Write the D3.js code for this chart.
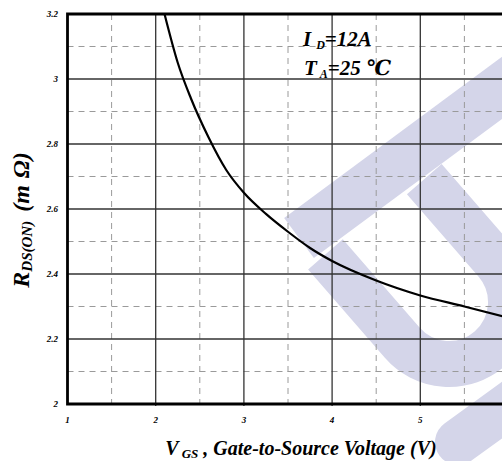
<!DOCTYPE html>
<html>
<head>
<meta charset="utf-8">
<script src="https://cdn.jsdelivr.net/npm/d3@7"></script>
<style>
  html, body { margin: 0; padding: 0; background: #fff; }
  svg text { font-family: "Liberation Serif", "DejaVu Serif", serif; font-weight: bold; font-style: italic; fill: #000; }
</style>
</head>
<body>
<div class="box"></div>
<script>
// données
const vgs = [2.10, 2.25, 2.40, 2.60, 2.80, 3.00, 3.25, 3.50, 3.75, 4.00, 4.50, 5.00, 5.50, 6.00];
const rds = [3.20, 3.05, 2.94, 2.82, 2.72, 2.650, 2.585, 2.530, 2.48, 2.440, 2.380, 2.334, 2.300, 2.265];

const xTicks = [1, 2, 3, 4, 5];
const xMinor = [1.5, 2.5, 3.5, 4.5, 5.5];
const yTicks = [2, 2.2, 2.4, 2.6, 2.8, 3, 3.2];
const yMinor = [2.1, 2.3, 2.5, 2.7, 2.9, 3.1];

const dims = {width: 502, height: 461, left: 67.5, top: 14, bottom: 404, right: 508.5};

const svg = d3.select('.box')
              .append('svg')
              .attr('width', dims.width)
              .attr('height', dims.height);

const x = d3.scaleLinear().domain([1, 6]).range([dims.left, dims.right]);
const y = d3.scaleLinear().domain([2, 3.2]).range([dims.bottom, dims.top]);

// filigrane (logo en fond)
const wm = svg.append('g')
              .attr('fill', 'none')
              .attr('stroke', '#d4d5e9');

wm.append('line')
  .attr('x1', 299).attr('y1', 238)
  .attr('x2', 560).attr('y2', 45)
  .attr('stroke-width', 50);

wm.append('path')
  .attr('transform', 'translate(449,302) rotate(-41)')
  .attr('d', 'M-62,-117 L-62,0 A62,62 0 0 0 62,0 L62,-109')
  .attr('stroke-width', 46);

wm.append('line')
  .attr('x1', 458).attr('y1', 442)
  .attr('x2', 560).attr('y2', 368)
  .attr('stroke-width', 46)
  .attr('stroke-linecap', 'round');

// grille secondaire
const grid = svg.append('g');

grid.selectAll('.vmin')
    .data(xMinor)
    .enter().append('line')
    .attr('x1', d => x(d)).attr('x2', d => x(d))
    .attr('y1', dims.top).attr('y2', dims.bottom)
    .attr('stroke', '#9a9a9a')
    .attr('stroke-width', 1)
    .attr('stroke-dasharray', '6,5');

grid.selectAll('.hmin')
    .data(yMinor)
    .enter().append('line')
    .attr('x1', dims.left).attr('x2', dims.width)
    .attr('y1', d => y(d)).attr('y2', d => y(d))
    .attr('stroke', '#9a9a9a')
    .attr('stroke-width', 1)
    .attr('stroke-dasharray', '6,5');

// grille principale
grid.selectAll('.vmaj')
    .data(xTicks.slice(1))
    .enter().append('line')
    .attr('x1', d => x(d)).attr('x2', d => x(d))
    .attr('y1', dims.top).attr('y2', dims.bottom + 2)
    .attr('stroke', '#333')
    .attr('stroke-width', 1.3);

grid.selectAll('.hmaj')
    .data(yTicks.slice(1, -1))
    .enter().append('line')
    .attr('x1', dims.left).attr('x2', dims.width)
    .attr('y1', d => y(d)).attr('y2', d => y(d))
    .attr('stroke', '#333')
    .attr('stroke-width', 1.3);

// cadre
svg.append('path')
   .attr('d', `M${dims.width},${dims.top} H${dims.left} V${dims.bottom} H${dims.width}`)
   .attr('fill', 'none')
   .attr('stroke', '#000')
   .attr('stroke-width', 2.8);

// courbe
svg.append('clipPath')
   .attr('id', 'plot')
   .append('rect')
   .attr('x', dims.left).attr('y', dims.top)
   .attr('width', dims.right - dims.left).attr('height', dims.bottom - dims.top);

const line = d3.line()
               .x(d => x(d))
               .y((d, i) => y(rds[i]))
               .curve(d3.curveMonotoneX);

svg.append('path')
   .attr('clip-path', 'url(#plot)')
   .attr('d', line(vgs))
   .attr('fill', 'none')
   .attr('stroke', '#000')
   .attr('stroke-width', 2.2);

// graduations
svg.selectAll('.xlab')
   .data(xTicks)
   .enter().append('text')
   .attr('x', d => x(d))
   .attr('y', 423)
   .attr('text-anchor', 'middle')
   .attr('font-size', 9)
   .text(d => d);

svg.selectAll('.ylab')
   .data(yTicks)
   .enter().append('text')
   .attr('x', 58)
   .attr('y', d => y(d) + 3)
   .attr('text-anchor', 'end')
   .attr('font-size', 9)
   .text(d => d);

// titres des axes
const xt = svg.append('text')
              .attr('x', 301)
              .attr('y', 455)
              .attr('text-anchor', 'middle')
              .attr('font-size', 20);
xt.append('tspan').text('V');
xt.append('tspan').attr('font-size', 13).attr('dy', 3).attr('dx', 3).text('GS');
xt.append('tspan').attr('dy', -3).attr('dx', 5).text(', Gate-to-Source Voltage (V)');

const yt = svg.append('text')
              .attr('transform', 'translate(29,220) rotate(-90)')
              .attr('text-anchor', 'middle')
              .attr('font-size', 24);
yt.append('tspan').text('R');
yt.append('tspan').attr('font-size', 15).attr('dy', 3).text('DS(ON)');
yt.append('tspan').attr('dy', -3).attr('dx', 9).text('(m');
yt.append('tspan').attr('dx', 7).text('Ω)');

// annotations
const a1 = svg.append('text')
              .attr('x', 303)
              .attr('y', 46)
              .attr('font-size', 21);
a1.append('tspan').text('I');
a1.append('tspan').attr('font-size', 12).attr('dy', 3).attr('dx', 5).text('D');
a1.append('tspan').attr('dy', -3).text('=12A');

const a2 = svg.append('text')
              .attr('x', 304)
              .attr('y', 75)
              .attr('font-size', 21);
a2.append('tspan').text('T');
a2.append('tspan').attr('font-size', 12).attr('dy', 3).attr('dx', 3).text('A');
a2.append('tspan').attr('dy', -3).text('=25 ℃');
</script>
</body>
</html>
